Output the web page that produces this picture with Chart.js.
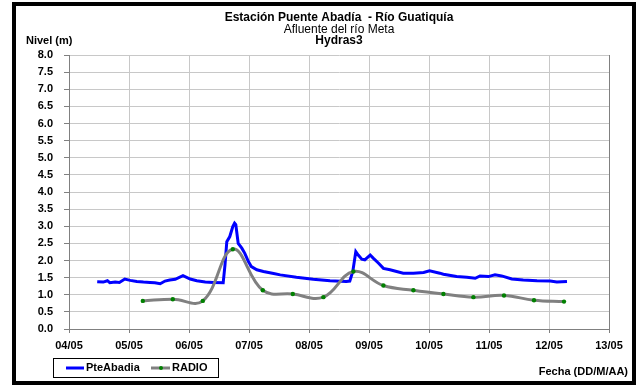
<!DOCTYPE html>
<html>
<head>
<meta charset="utf-8">
<title>Estación Puente Abadía - Río Guatiquía</title>
<script src="https://cdn.jsdelivr.net/npm/chart.js@4.4.1/dist/chart.umd.min.js"></script>
<style>
    html, body { margin: 0; padding: 0; background: #ffffff; }
    canvas { display: block; }
</style>
</head>
<body>
<canvas id="nivel-chart" width="638" height="386"></canvas>
<script>
// Tick labels of the date axis (day/month)
const dayTicks = ['04/05', '05/05', '06/05', '07/05', '08/05', '09/05', '10/05', '11/05', '12/05', '13/05'];

// PteAbadia station readings: day of May (fractional) and level in metres
const pteDays = [
    4.47, 4.57, 4.64, 4.68, 4.77, 4.84, 4.93, 5.02, 5.13, 5.24, 5.35, 5.43, 5.52, 5.60, 5.68, 5.77,
    5.90, 6.02, 6.13, 6.27, 6.40, 6.57, 6.60, 6.63, 6.68, 6.73, 6.76, 6.78, 6.82, 6.88, 6.93, 6.99,
    7.04, 7.13, 7.24, 7.41, 7.52, 7.79, 8.07, 8.35, 8.62, 8.68, 8.73, 8.78, 8.82, 8.88, 8.93, 9.02,
    9.07, 9.16, 9.24, 9.35, 9.46, 9.57, 9.74, 9.91, 10.01, 10.18, 10.24, 10.46, 10.63, 10.77, 10.85,
    10.99, 11.10, 11.21, 11.38, 11.57, 11.80, 12.02, 12.13, 12.30
];
const pteLevels = [
    1.38, 1.37, 1.41, 1.35, 1.37, 1.36, 1.46, 1.42, 1.39, 1.37, 1.36, 1.35, 1.32, 1.40, 1.43, 1.45,
    1.56, 1.46, 1.41, 1.37, 1.36, 1.35, 1.87, 2.55, 2.70, 2.99, 3.09, 3.05, 2.50, 2.36, 2.21, 1.97,
    1.82, 1.73, 1.68, 1.62, 1.58, 1.51, 1.45, 1.41, 1.39, 1.40, 1.68, 2.26, 2.16, 2.04, 2.02, 2.16,
    2.07, 1.92, 1.77, 1.73, 1.68, 1.63, 1.63, 1.65, 1.70, 1.63, 1.60, 1.53, 1.51, 1.48, 1.55,
    1.53, 1.58, 1.55, 1.46, 1.43, 1.41, 1.40, 1.37, 1.39
];

// RADIO reports, twice a day
const radioDays = [5.23, 5.73, 6.23, 6.73, 7.23, 7.73, 8.24, 8.74, 9.24, 9.74, 10.24, 10.74, 11.25, 11.75, 12.25];
const radioLevels = [0.82, 0.87, 0.82, 2.33, 1.13, 1.02, 0.93, 1.68, 1.27, 1.13, 1.02, 0.93, 0.98, 0.84, 0.80];

const FONT_FAMILY = "'Liberation Sans', Arial, sans-serif";

/**
 * Pair x and y arrays into Chart.js points
 */
function toPoints(xs, ys) {
    return xs.map((x, i) => ({ x: x, y: ys[i] }));
}

/**
 * Titles, axis captions, legend box and outer frame
 */
const decorPlugin = {
    id: 'decor',
    beforeDraw(chart) {
        const ctx = chart.ctx;
        ctx.save();
        ctx.fillStyle = '#ffffff';
        ctx.fillRect(0, 0, chart.width, chart.height);
        ctx.restore();
    },
    afterDraw(chart) {
        const ctx = chart.ctx;
        const area = chart.chartArea;
        const midX = (area.left + area.right) / 2;

        ctx.save();

        // plot area right edge
        ctx.strokeStyle = '#808080';
        ctx.lineWidth = 1;
        ctx.beginPath();
        ctx.moveTo(Math.round(area.right) + 0.5, area.top);
        ctx.lineTo(Math.round(area.right) + 0.5, area.bottom);
        ctx.stroke();

        // titles
        ctx.fillStyle = '#000000';
        ctx.textAlign = 'center';
        ctx.textBaseline = 'middle';
        ctx.font = `bold 12px ${FONT_FAMILY}`;
        ctx.fillText('Estación Puente Abadía  - Río Guatiquía', midX, 18);
        ctx.font = `12px ${FONT_FAMILY}`;
        ctx.fillText('Afluente del río Meta', midX, 30);
        ctx.font = `bold 12px ${FONT_FAMILY}`;
        ctx.fillText('Hydras3', midX, 41);

        // axis captions
        ctx.font = `bold 11px ${FONT_FAMILY}`;
        ctx.textAlign = 'left';
        ctx.fillText('Nivel (m)', 26, 41);
        ctx.textAlign = 'right';
        ctx.fillText('Fecha (DD/M/AA)', 628, 372);

        // legend
        ctx.strokeStyle = '#000000';
        ctx.lineWidth = 1;
        ctx.strokeRect(53.5, 358.5, 165, 19);
        const legendY = 368;
        ctx.lineWidth = 3;
        ctx.strokeStyle = '#0000ff';
        ctx.beginPath();
        ctx.moveTo(66, legendY);
        ctx.lineTo(84, legendY);
        ctx.stroke();
        ctx.strokeStyle = '#808080';
        ctx.beginPath();
        ctx.moveTo(151, legendY);
        ctx.lineTo(170, legendY);
        ctx.stroke();
        ctx.fillStyle = '#008000';
        ctx.beginPath();
        ctx.arc(161, legendY, 2, 0, Math.PI * 2);
        ctx.fill();
        ctx.fillStyle = '#000000';
        ctx.textAlign = 'left';
        ctx.font = `bold 11px ${FONT_FAMILY}`;
        ctx.fillText('PteAbadia', 86, legendY);
        ctx.fillText('RADIO', 172, legendY);

        // outer frame
        ctx.strokeStyle = '#000000';
        ctx.lineWidth = 4;
        ctx.strokeRect(14, 4, 620, 379);

        ctx.restore();
    }
};

/**
 * Build the level chart
 */
function renderNivelChart() {
    const ctx = document.getElementById('nivel-chart').getContext('2d');
    const tickFont = { family: FONT_FAMILY, size: 11, weight: 'bold' };

    new Chart(ctx, {
        type: 'line',
        data: {
            datasets: [
                {
                    label: 'PteAbadia',
                    data: toPoints(pteDays, pteLevels),
                    borderColor: '#0000ff',
                    borderWidth: 3,
                    pointRadius: 0,
                    tension: 0,
                    order: 1
                },
                {
                    label: 'RADIO',
                    data: toPoints(radioDays, radioLevels),
                    borderColor: '#808080',
                    borderWidth: 3,
                    pointRadius: 2.2,
                    pointBorderWidth: 0,
                    pointBackgroundColor: '#008000',
                    tension: 0.4,
                    order: 0
                }
            ]
        },
        options: {
            responsive: false,
            animation: false,
            layout: {
                padding: { top: 55, right: 29, bottom: 0, left: 0 }
            },
            plugins: {
                legend: { display: false },
                tooltip: { enabled: false }
            },
            scales: {
                x: {
                    type: 'linear',
                    min: 4,
                    max: 13,
                    afterFit(scale) { scale.height = 57; },
                    ticks: {
                        stepSize: 1,
                        autoSkip: false,
                        maxRotation: 0,
                        padding: 6,
                        color: '#000000',
                        font: tickFont,
                        callback: (value, index) => dayTicks[index]
                    },
                    grid: { color: '#c8c8c8', tickColor: '#808080', tickLength: 4 },
                    border: { color: '#808080', width: 1 }
                },
                y: {
                    min: 0,
                    max: 8,
                    afterFit(scale) { scale.width = 69; },
                    ticks: {
                        stepSize: 0.5,
                        padding: 11,
                        color: '#000000',
                        font: tickFont,
                        callback: value => Number(value).toFixed(1)
                    },
                    grid: { color: '#c8c8c8', tickColor: '#808080', tickLength: 5 },
                    border: { color: '#808080', width: 1 }
                }
            }
        },
        plugins: [decorPlugin]
    });
}

renderNivelChart();
</script>
</body>
</html>
